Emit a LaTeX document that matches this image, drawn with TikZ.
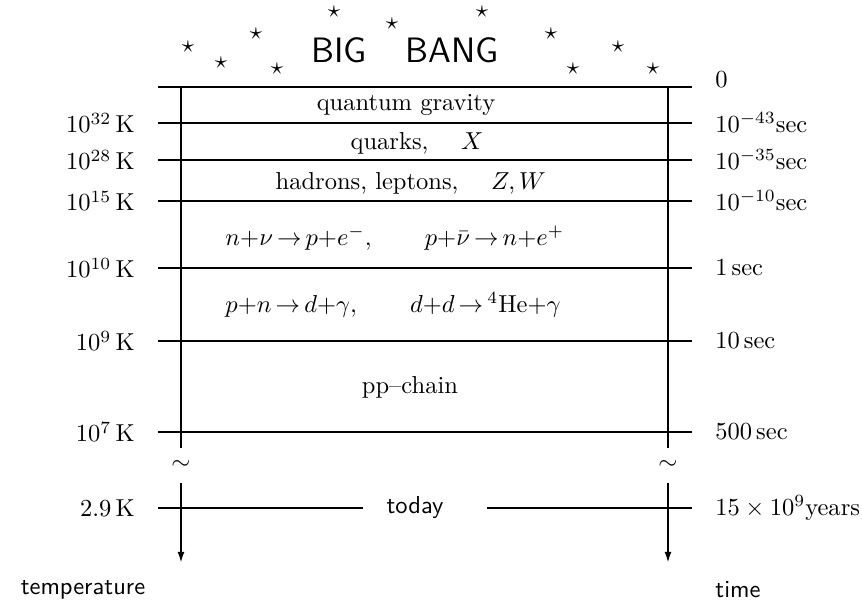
\documentclass[tikz,border=0pt]{standalone}
\usepackage{amsmath,amssymb}
\usetikzlibrary{arrows.meta,positioning}
\newcommand{\goesto}{\mathrel{\mkern-2mu\to\mkern-2mu}}

\begin{document}
\begin{tikzpicture}[x=0.408pt,y=-0.408pt,
  node distance=6pt,
  epoch/.style={thick},
  axis/.style={thick},
  axisend/.style={thick,-{Latex[length=4.5pt,width=2.8pt]}},
  star/.style={inner sep=0pt},
  band/.style={inner sep=0pt},
  word/.style={font=\sffamily}]
\useasboundingbox (0,0) rectangle (862,604);
% stars and title
\node[star] (st1) at (188,47) {$\star$};
\node[star] (st2) at (221,63) {$\star$};
\node[star] (st3) at (256,34) {$\star$};
\node[star] (st4) at (277,69) {$\star$};
\node[star] (st5) at (334,12) {$\star$};
\node[star] (st6) at (392,24) {$\star$};
\node[star] (st7) at (482,12) {$\star$};
\node[star] (st8) at (551,34) {$\star$};
\node[star] (st9) at (573,69) {$\star$};
\node[star] (st10) at (618,47) {$\star$};
\node[star] (st11) at (653,69) {$\star$};
\node[word,font=\sffamily\Large,anchor=base] (bang) at (405,63) {BIG\hspace{16pt}BANG};
% epoch lines
\coordinate (l0) at (158,87);  \coordinate (r0) at (692,87);
\coordinate (l1) at (158,123); \coordinate (r1) at (692,123);
\coordinate (l2) at (158,160); \coordinate (r2) at (692,160);
\coordinate (l3) at (158,201); \coordinate (r3) at (692,201);
\coordinate (l4) at (158,268); \coordinate (r4) at (692,268);
\coordinate (l5) at (158,341); \coordinate (r5) at (692,341);
\coordinate (l6) at (158,432); \coordinate (r6) at (692,432);
\coordinate (l7) at (158,508); \coordinate (r7) at (692,508);
\draw[epoch] (l0) -- (r0);
\draw[epoch] (l1) -- (r1);
\draw[epoch] (l2) -- (r2);
\draw[epoch] (l3) -- (r3);
\draw[epoch] (l4) -- (r4);
\draw[epoch] (l5) -- (r5);
\draw[epoch] (l6) -- (r6);
% today
\node[word] (today) at (415,508) {today};
\coordinate (gl) at (363,508); \coordinate (gr) at (487,508);
\draw[epoch] (l7) -- (gl);
\draw[epoch] (gr) -- (r7);
% axes
\coordinate (ta) at (181,87);  \coordinate (tb) at (181,448);
\node (tsim) at (181,465) {$\sim$};
\coordinate (tc) at (181,483); \coordinate (td) at (181,563);
\coordinate (ua) at (668,87);  \coordinate (ub) at (668,448);
\node (usim) at (668,465) {$\sim$};
\coordinate (uc) at (668,483); \coordinate (ud) at (668,563);
\draw[axis] (ta) -- (tb);
\draw[axisend] (tc) -- (td);
\draw[axis] (ua) -- (ub);
\draw[axisend] (uc) -- (ud);
% temperatures
\node[left=of l1] (k1) {$10^{32}\,$K};
\node[left=of l2] (k2) {$10^{28}\,$K};
\node[left=of l3] (k3) {$10^{15}\,$K};
\node[left=of l4] (k4) {$10^{10}\,$K};
\node[left=of l5] (k5) {$10^{9}\,$K};
\node[left=of l6] (k6) {$10^{7}\,$K};
\node[left=of l7] (k7) {$2.9\,$K};
% times
\node[right=of r0,yshift=3pt] (s0) {$0$};
\node[right=of r1] (s1) {$10^{-43}$sec};
\node[right=of r2] (s2) {$10^{-35}$sec};
\node[right=of r3] (s3) {$10^{-10}$sec};
\node[right=of r4] (s4) {$1\,$sec};
\node[right=of r5] (s5) {$10\,$sec};
\node[right=of r6] (s6) {$500\,$sec};
\node[right=of r7] (s7) {$15\times10^{9}$years};
% epochs
\node (qg) at (406,105) {quantum gravity};
\node (qx) at (417,143) {quarks, \quad$X$};
\node[anchor=west] (hl) at (267,183) {hadrons, leptons, \quad$Z,W$};
\node[band,anchor=west] (weak) at (225,238) {$n{+}\nu\goesto p{+}e^-,\qquad p{+}\bar\nu\goesto n{+}e^+$};
\node[band,anchor=west] (nuc) at (225,305) {$p{+}n\goesto d{+}\gamma,\qquad d{+}d\goesto{}^4\mathrm{He}{+}\gamma$};
\node (pp) at (410,387) {pp--chain};
% axis names
\node[word] (temp) at (83,590) {temperature};
\node[word] (time) at (738,590) {time};
\end{tikzpicture}
\end{document}
